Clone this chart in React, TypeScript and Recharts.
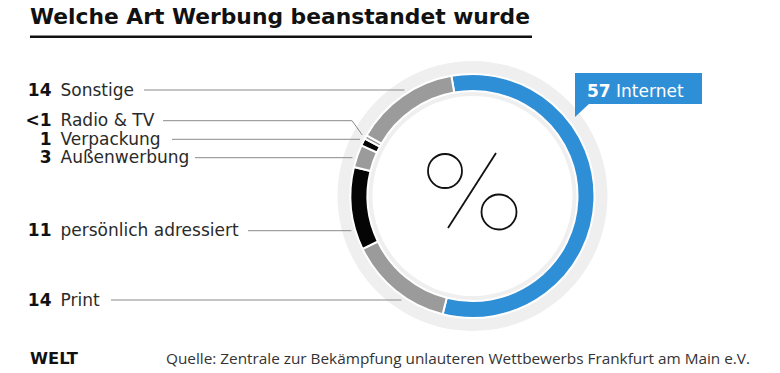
import React from "react";
import { PieChart, Pie, Cell, Customized } from "recharts";

// ---- data ----
const categories = [
  "Internet",
  "Print",
  "persönlich adressiert",
  "Außenwerbung",
  "Verpackung",
  "Radio & TV",
  "Sonstige",
];
const shares = [57, 14, 11, 3, 1, 0.5, 14];
const shareLabels = ["57", "14", "11", "3", "1", "<1", "14"];
const title = "Welche Art Werbung beanstandet wurde";
const source = "Quelle: Zentrale zur Bekämpfung unlauteren Wettbewerbs Frankfurt am Main e.V.";
const brand = "WELT";

// ---- styles / layout ----
const BLUE = "#2f8fd6";
const GRAY = "#9b9b9b";
const BLACK = "#050505";
const segColors = [BLUE, GRAY, BLACK, GRAY, BLACK, GRAY, GRAY];
const FONT = "'DejaVu Sans', sans-serif";
const CX = 472.5;
const CY = 196;
const LEADER_R = 126;
// left-side label layout (index aligned with categories; Internet uses the callout)
const labelLineY = [0, 300, 230.7, 157.7, 139.3, 120.7, 90];
const lineStartX = [0, 111, 248, 195, 172, 163, 144];
const elbow = [false, false, false, false, false, true, false];

const data = categories.map((name, i) => ({ name, value: shares[i], label: shareLabels[i] }));
const bgData = [{ name: "bg", value: 1 }];

const RAD = Math.PI / 180;

const renderLabel = (props: any) => {
  const { cx, cy, midAngle, index } = props;
  if (index === 0) {
    const bx = cx + 102.5;
    const by = cy - 123;
    return (
      <g key="callout">
        <rect x={bx} y={by} width={127} height={31} fill={BLUE} />
        <polygon points={`${bx},${by + 30} ${bx + 15},${by + 30} ${bx},${by + 44}`} fill={BLUE} />
        <text x={bx + 12} y={by + 24} fill="#fff" fontFamily={FONT} fontSize={17}>
          <tspan fontWeight={700}>{shareLabels[0]}</tspan>
          <tspan fontWeight={500}>{" " + categories[0]}</tspan>
        </text>
      </g>
    );
  }
  const ly = labelLineY[index];
  const dy = ly - cy;
  const hx = cx - Math.sqrt(Math.max(LEADER_R * LEADER_R - dy * dy, 0));
  let path: string;
  if (elbow[index]) {
    const px = cx + LEADER_R * Math.cos(-midAngle * RAD);
    const py = cy + LEADER_R * Math.sin(-midAngle * RAD);
    const ex = cx - 120.5;
    path = `M${lineStartX[index]},${ly} L${ex},${ly} L${px},${py}`;
  } else {
    path = `M${lineStartX[index]},${ly} L${hx},${ly}`;
  }
  return (
    <g key={`lbl-${index}`}>
      <path d={path} stroke="#8a8a8a" strokeWidth={1} fill="none" />
      <text x={51.5} y={ly + 5.5} textAnchor="end" fontFamily={FONT} fontSize={17} fontWeight={700} fill="#111">
        {shareLabels[index]}
      </text>
      <text x={60.5} y={ly + 5.5} fontFamily={FONT} fontSize={17} fill="#2a2a2a">
        {categories[index]}
      </text>
    </g>
  );
};

const Overlay = () => (
  <g>
    <text x={30} y={24} fontFamily={FONT} fontSize={21} fontWeight={700} fill="#111" textLength={500} lengthAdjust="spacingAndGlyphs">
      {title}
    </text>
    <rect x={30} y={35.5} width={502} height={2.5} fill="#111" />
    {/* percent icon in the centre */}
    <g stroke="#111" strokeWidth={1.8} fill="none">
      <circle cx={CX - 27.5} cy={CY - 25} r={17} />
      <circle cx={CX + 26.5} cy={CY + 16} r={17.5} />
      <line x1={CX + 23.5} y1={CY - 43} x2={CX - 24.5} y2={CY + 32} />
    </g>
    <text x={30} y={364} fontFamily={FONT} fontSize={15} fontWeight={700} fill="#111" textLength={48} lengthAdjust="spacingAndGlyphs">
      {brand}
    </text>
    <text x={166} y={364} fontFamily="'Open Sans', sans-serif" fontSize={14.5} fill="#333" textLength={584} lengthAdjust="spacingAndGlyphs">
      {source}
    </text>
  </g>
);

export default function App() {
  return (
    <div style={{ position: "absolute", left: 0, top: 0, width: 780, height: 373, background: "#fff" }}>
      <PieChart width={780} height={373} margin={{ top: 0, right: 0, bottom: 0, left: 0 }}>
        <Pie
          data={bgData}
          dataKey="value"
          cx={CX}
          cy={CY}
          innerRadius={100}
          outerRadius={135}
          startAngle={90}
          endAngle={-270}
          fill="#efefef"
          stroke="none"
          isAnimationActive={false}
        />
        <Pie
          data={data}
          dataKey="value"
          nameKey="name"
          cx={CX}
          cy={CY}
          innerRadius={105}
          outerRadius={122}
          startAngle={100}
          endAngle={-260}
          stroke="#fff"
          strokeWidth={2}
          label={renderLabel}
          labelLine={false}
          isAnimationActive={false}
        >
          {data.map((d, i) => (
            <Cell key={d.name} fill={segColors[i]} />
          ))}
        </Pie>
        <Customized component={<Overlay />} />
      </PieChart>
    </div>
  );
}
